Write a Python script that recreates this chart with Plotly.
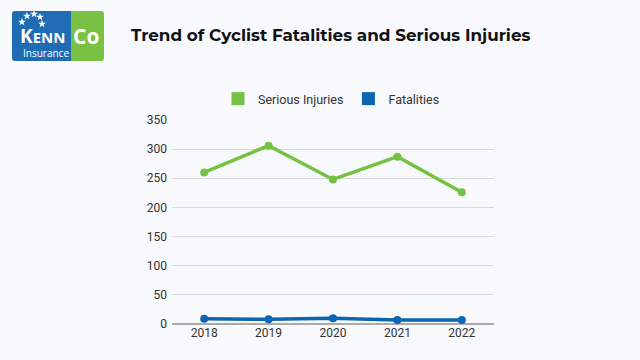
import plotly.graph_objects as go

years = ["2018", "2019", "2020", "2021", "2022"]
serious_injuries = [260, 306, 248, 287, 226]
fatalities = [9, 8, 10, 7, 7]
y_ticks = [0, 50, 100, 150, 200, 250, 300, 350]

GREEN = "#76C043"
BLUE = "#0B65B1"
BG = "#F8F9FC"
W, H = 640, 360


def px(x):
    return x / W


def py(y):
    return (H - y) / H


fig = go.Figure()
fig.add_trace(go.Scatter(x=years, y=serious_injuries, mode="lines+markers", name="Serious Injuries",
                         line=dict(color=GREEN, width=3.5), marker=dict(size=8, color=GREEN), showlegend=False))
fig.add_trace(go.Scatter(x=years, y=fatalities, mode="lines+markers", name="Fatalities",
                         line=dict(color=BLUE, width=3.5), marker=dict(size=8, color=BLUE), showlegend=False))
# legend entries (square swatches)
fig.add_trace(go.Scatter(x=[None], y=[None], mode="markers", name="Serious Injuries",
                         marker=dict(symbol="square", size=13, color=GREEN)))
fig.add_trace(go.Scatter(x=[None], y=[None], mode="markers", name="Fatalities",
                         marker=dict(symbol="square", size=13, color=BLUE)))

fig.update_layout(
    width=W, height=H,
    paper_bgcolor=BG, plot_bgcolor="rgba(0,0,0,0)",
    margin=dict(l=0, r=0, t=0, b=0, autoexpand=False),
    font=dict(family="Roboto", color="#333333", size=12),
    showlegend=True,
    legend=dict(orientation="h", x=px(218), xanchor="left", y=py(99), yanchor="middle",
                font=dict(family="Roboto", size=12.5, color="#333333"), itemwidth=30,
                bgcolor="rgba(0,0,0,0)"),
    xaxis=dict(type="category", range=[-0.5, 4.5], domain=[px(172), px(494)], showgrid=False,
               showline=False, ticks="", tickfont=dict(size=12, color="#333333")),
    yaxis=dict(range=[0, 350], domain=[py(324), py(120)], tickvals=y_ticks, showgrid=True,
               gridcolor="#D9D9D9", gridwidth=1, zeroline=True, zerolinecolor="#AAAAAA",
               zerolinewidth=1.5, showline=False, ticks="", tickfont=dict(size=12, color="#333333"),
               ticklabelstandoff=4),
)

# Title
fig.add_annotation(text="<b>Trend of Cyclist Fatalities and Serious Injuries</b>", xref="paper", yref="paper",
                   x=px(129), y=py(35), xanchor="left", yanchor="middle",
                   showarrow=False, font=dict(family="Montserrat, Open Sans, sans-serif", size=16.8, color="#111111"))

# Logo (decoration)
r = 3
x0, x1, xm, y0, y1 = 12, 104, 71, 11, 61


def P(x, y):
    return f"{px(x)},{py(y)}"


left_path = (f"M {P(xm, y0)} L {P(x0 + r, y0)} Q {P(x0, y0)} {P(x0, y0 + r)} "
             f"L {P(x0, y1 - r)} Q {P(x0, y1)} {P(x0 + r, y1)} L {P(xm, y1)} Z")
right_path = (f"M {P(xm, y0)} L {P(x1 - r, y0)} Q {P(x1, y0)} {P(x1, y0 + r)} "
              f"L {P(x1, y1 - r)} Q {P(x1, y1)} {P(x1 - r, y1)} L {P(xm, y1)} Z")
fig.add_shape(type="path", xref="paper", yref="paper", path=left_path, fillcolor="#1F6CB4",
              line=dict(width=0), layer="below")
fig.add_shape(type="path", xref="paper", yref="paper", path=right_path, fillcolor="#7AC143",
              line=dict(width=0), layer="below")
fig.add_annotation(text="<b>K<span style='font-size:15px'>ENN</span></b>", xref="paper", yref="paper",
                   x=px(18), y=py(51), xanchor="left", yanchor="bottom", showarrow=False,
                   font=dict(family="Open Sans", size=19, color="white"))
fig.add_annotation(text="<b>Co</b>", xref="paper", yref="paper",
                   x=px(71), y=py(52), xanchor="left", yanchor="bottom", showarrow=False,
                   font=dict(family="Open Sans", size=21, color="white"))
fig.add_annotation(text="Insurance", xref="paper", yref="paper",
                   x=px(45.5), y=py(53), xanchor="center", yanchor="middle", showarrow=False,
                   font=dict(family="Open Sans", size=10, color="white"))

# logo stars drawn as markers on a full-page helper axis
star_x = [22, 27, 34, 40, 42]
star_y = [22, 16, 14, 17, 24]
fig.add_trace(go.Scatter(x=[px(v) for v in star_x], y=[py(v) for v in star_y], xaxis="x2", yaxis="y2",
                         mode="markers", marker=dict(symbol="star", size=6, color="white", line=dict(width=0)),
                         showlegend=False, hoverinfo="skip", cliponaxis=False))
fig.update_layout(
    xaxis2=dict(range=[0, 1], domain=[0, 1], visible=False, anchor="y2", fixedrange=True),
    yaxis2=dict(range=[0, 1], domain=[0, 1], visible=False, anchor="x2", fixedrange=True),
)

fig.write_html("out.html", post_script="document.body.style.margin='0';",
               config={"displayModeBar": False})
